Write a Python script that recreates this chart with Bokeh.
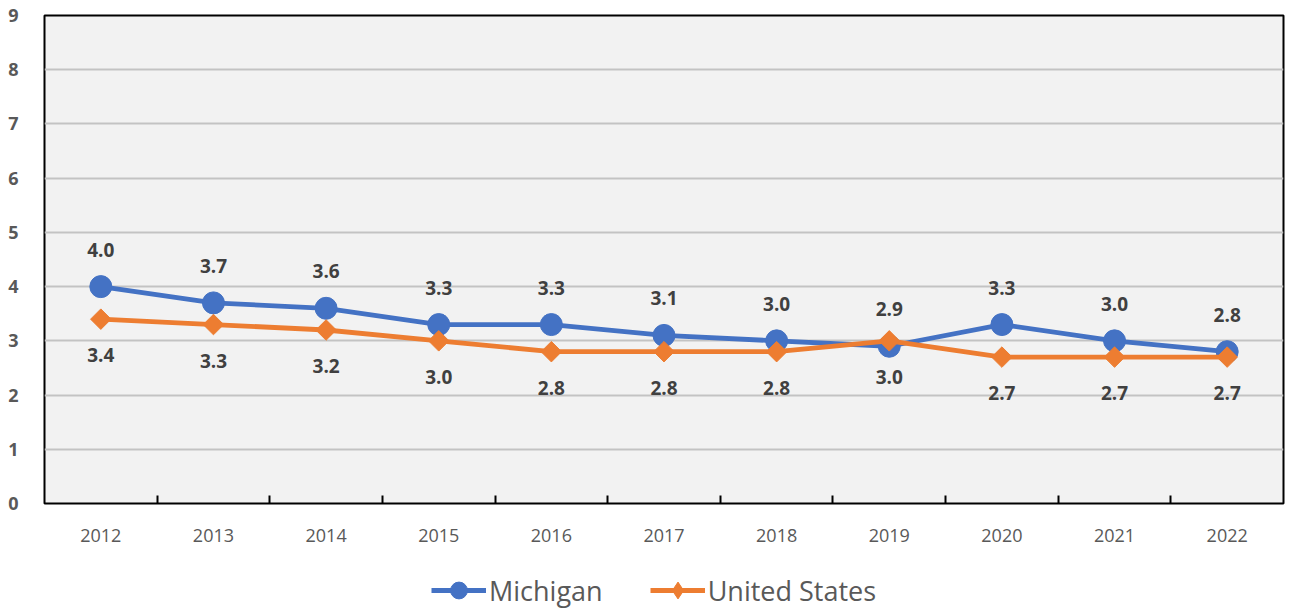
import math
from bokeh.plotting import figure
from bokeh.models import FixedTicker, Legend, LegendItem, ColumnDataSource, Range1d
from bokeh.layouts import column
from bokeh.core.properties import value
from bokeh.embed import file_html
from bokeh.resources import INLINE

years = ["2012", "2013", "2014", "2015", "2016", "2017", "2018", "2019", "2020", "2021", "2022"]
michigan = [4.0, 3.7, 3.6, 3.3, 3.3, 3.1, 3.0, 2.9, 3.3, 3.0, 2.8]
united_states = [3.4, 3.3, 3.2, 3.0, 2.8, 2.8, 2.8, 3.0, 2.7, 2.7, 2.7]
series_names = ["Michigan", "United States"]
y_ticks = [0, 1, 2, 3, 4, 5, 6, 7, 8, 9]

FONT = "Open Sans"
BLUE = "#4472c4"
ORANGE = "#ed7d31"

xs = list(range(len(years)))
src = ColumnDataSource(dict(
    x=xs,
    mi=michigan,
    us=united_states,
    mi_lab=[f"{v:.1f}" for v in michigan],
    us_lab=[f"{v:.1f}" for v in united_states],
))

p = figure(width=1290, height=551, output_backend="svg", toolbar_location=None,
           x_range=Range1d(-0.5, len(years) - 0.5), y_range=Range1d(0, 9),
           min_border_left=44, min_border_right=7, min_border_top=15, min_border_bottom=48)
p.background_fill_color = "#f2f2f2"
p.border_fill_color = "white"
p.outline_line_color = "black"
p.outline_line_width = 2

# y axis
p.yaxis.ticker = FixedTicker(ticks=y_ticks)
p.yaxis.axis_line_color = None
p.yaxis.major_tick_line_color = None
p.yaxis.minor_tick_line_color = None
p.yaxis.major_label_text_font = FONT
p.yaxis.major_label_text_font_size = "18px"
p.yaxis.major_label_text_font_style = "bold"
p.yaxis.major_label_text_color = "#595959"
p.yaxis.major_label_standoff = 20

p.ygrid.ticker = FixedTicker(ticks=y_ticks)
p.ygrid.grid_line_color = "#c3c3c3"
p.ygrid.grid_line_width = 2
p.xgrid.grid_line_color = None

# x axis
p.xaxis.ticker = FixedTicker(ticks=xs, minor_ticks=[i + 0.5 for i in xs[:-1]])
p.xaxis.major_label_overrides = {i: y for i, y in zip(xs, years)}
p.xaxis.axis_line_color = None
p.xaxis.major_tick_line_color = None
p.xaxis.minor_tick_line_color = "black"
p.xaxis.minor_tick_line_width = 2
p.xaxis.minor_tick_in = 8
p.xaxis.minor_tick_out = 0
p.xaxis.major_label_text_font = FONT
p.xaxis.major_label_text_font_size = "18px"
p.xaxis.major_label_text_color = "#595959"
p.xaxis.major_label_standoff = 19

# series (Michigan first, United States drawn on top)
p.line("x", "mi", source=src, line_color=BLUE, line_width=4.8)
p.scatter("x", "mi", source=src, marker="circle", size=22, fill_color=BLUE, line_color=BLUE)
p.line("x", "us", source=src, line_color=ORANGE, line_width=4.8)
p.scatter("x", "us", source=src, marker="square", angle=math.pi / 4, size=14.5,
          fill_color=ORANGE, line_color=ORANGE)

# data labels
p.text("x", "mi", text="mi_lab", source=src, y_offset=-37, text_align="center", text_baseline="middle",
       text_font=value(FONT), text_font_size="19px", text_font_style="bold", text_color="#404040")
p.text("x", "us", text="us_lab", source=src, y_offset=36, text_align="center", text_baseline="middle",
       text_font=value(FONT), text_font_size="19px", text_font_style="bold", text_color="#404040")

# legend strip (series glyphs fall outside its 0..1 y-range, only legend swatches show)
lf = figure(width=1290, height=60, output_backend="svg", toolbar_location=None,
            x_range=Range1d(0, 1), y_range=Range1d(0, 1),
            min_border_left=0, min_border_right=0, min_border_top=0, min_border_bottom=0)
lf.axis.visible = False
lf.grid.visible = False
lf.outline_line_color = None
lf.background_fill_color = "white"
r_mi_l = lf.line("x", "mi", source=src, line_color=BLUE, line_width=4.8)
r_mi_m = lf.scatter("x", "mi", source=src, marker="circle", fill_color=BLUE, line_color=BLUE)
r_us_l = lf.line("x", "us", source=src, line_color=ORANGE, line_width=4.8)
r_us_m = lf.scatter("x", "us", source=src, marker="diamond", fill_color=ORANGE, line_color=ORANGE)

legend = Legend(items=[LegendItem(label=series_names[0], renderers=[r_mi_l, r_mi_m]),
                       LegendItem(label=series_names[1], renderers=[r_us_l, r_us_m])],
                orientation="horizontal", location=(387, 0))
legend.label_text_font = FONT
legend.label_text_font_size = "27px"
legend.label_text_color = "#595959"
legend.glyph_width = 55
legend.glyph_height = 42
legend.label_standoff = 3
legend.spacing = 47
legend.border_line_color = None
legend.background_fill_alpha = 0
legend.padding = 0
legend.margin = 0
lf.add_layout(legend, "center")

layout = column(p, lf, spacing=0)
open("out.html", "w").write(file_html(layout, INLINE))
